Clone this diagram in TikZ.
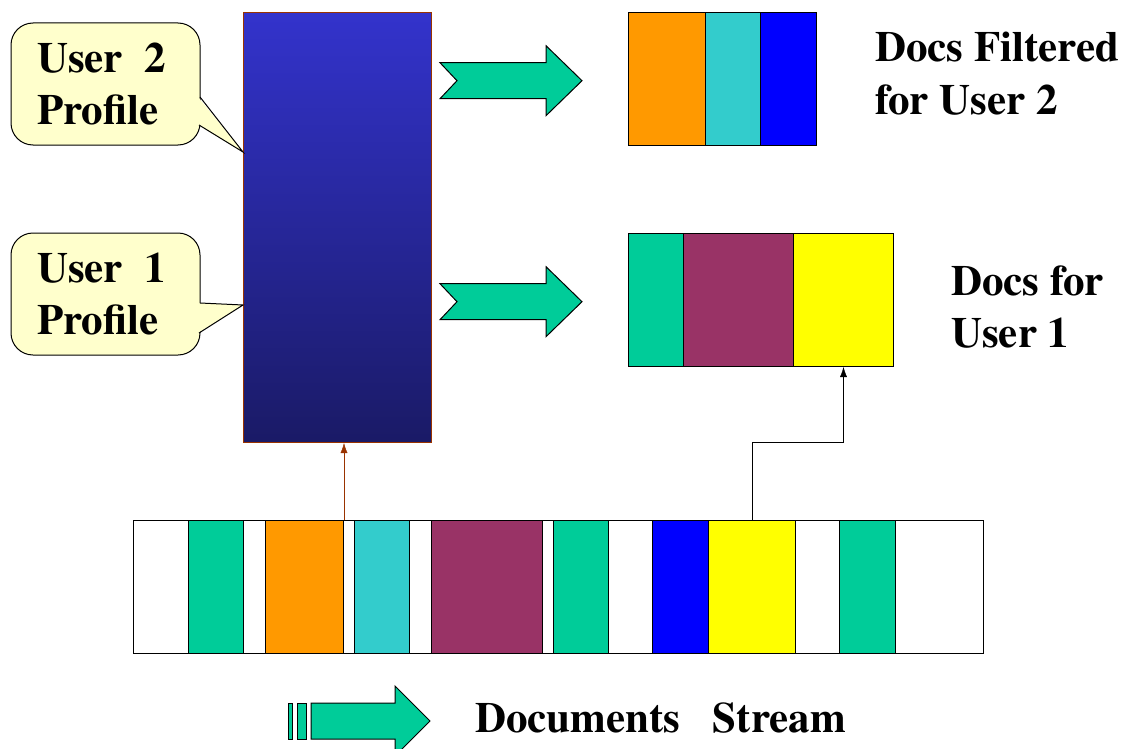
\documentclass[tikz,border=0pt]{standalone}
\usepackage{fontspec}
\setmainfont{texgyretermes}[Extension=.otf, UprightFont=*-regular, BoldFont=*-bold]
\usetikzlibrary{arrows.meta}
\definecolor{docgreen}{HTML}{00CC99}
\definecolor{docorange}{HTML}{FF9900}
\definecolor{doccyan}{HTML}{33CCCC}
\definecolor{docblue}{HTML}{0000FF}
\definecolor{docpurple}{HTML}{993366}
\definecolor{docyellow}{HTML}{FFFF00}
\definecolor{calloutfill}{HTML}{FFFFCC}
\definecolor{profiletop}{HTML}{3333CC}
\definecolor{profilebottom}{HTML}{1A1A66}
\definecolor{profileedge}{HTML}{993300}
\tikzset{
  doc/.style={draw, line width=1pt, inner sep=0, minimum height=133, anchor=north west},
  fatarrow/.style={draw, line width=1pt, fill=docgreen},
  callout/.style={draw, line width=1pt, fill=calloutfill, rounded corners=22,
    minimum width=189, minimum height=122, inner xsep=0, text width=137, align=left,
    font=\rmfamily\bfseries\fontsize{43}{52}\selectfont},
  lbl/.style={font=\rmfamily\bfseries\fontsize{43}{52}\selectfont, align=left, inner sep=0},
}
\begin{document}
\begin{tikzpicture}[x=1pt, y=-1pt]
    \clip (0,0) rectangle (1129,749);
    \fill[white] (0,0) rectangle (1129,749);
    %Profiles
    \node[draw=profileedge, line width=1pt, top color=profiletop, bottom color=profilebottom,
      minimum width=188, minimum height=430, inner sep=0, anchor=north west] (filter) at (243,12) {};
    %Callouts
    \node[callout] (u2) at (105.5,84) {User\hspace{0.5em}2\\Profile};
    \fill[calloutfill] (198,97) -- (243,152) -- (198,125) -- cycle;
    \draw[line width=1pt] (200,97) -- (243,152) -- (199,125);
    \node[callout] (u1) at (105.5,294) {User\hspace{0.5em}1\\Profile};
    \fill[calloutfill] (198,303) -- (243,305) -- (198,333) -- cycle;
    \draw[line width=1pt] (200,303) -- (243,305) -- (199,333);
    %Docs
    \foreach \l/\r/\t/\c/\n in {133/188/520/white/s1, 188/243/520/docgreen/s2,
      243/265/520/white/s3, 265/343/520/docorange/s4, 343/354/520/white/s5,
      354/409/520/doccyan/s6, 409/431/520/white/s7, 431/542/520/docpurple/s8,
      542/553/520/white/s9, 553/608/520/docgreen/s10, 608/652/520/white/s11,
      652/708/520/docblue/s12, 708/795/520/docyellow/s13, 795/839/520/white/s14,
      839/895/520/docgreen/s15, 895/983/520/white/s16,
      628/705/12/docorange/f1, 705/760/12/doccyan/f2, 760/816/12/docblue/f3,
      628/683/233/docgreen/g1, 683/793/233/docpurple/g2, 793/893/233/docyellow/g3}{
      \pgfmathsetmacro{\w}{\r-\l}
      \node[doc, fill=\c, minimum width=\w] (\n) at (\l,\t) {};
    }
    %Filter arrows
    \foreach \y in {80.7, 301.7}{
      \draw[fatarrow] (440,\y-18) -- (546,\y-18) -- (546,\y-35) -- (582,\y)
        -- (546,\y+35) -- (546,\y+18) -- (440,\y+18) -- (457,\y) -- cycle;
    }
    %Connectors
    \draw[profileedge, -{Latex[length=10pt,width=7pt]}] (s4.north east) -- (filter.south -| s4.north east);
    \draw[-{Latex[length=10pt,width=7pt]}] (s13.north) -- ++(0,-78) -| (g3.south);
    %Labels
    \node[lbl, anchor=base west] (t2a) at (875,62) {Docs Filtered};
    \node[lbl, anchor=base west] (t2b) at (875,115) {for User 2};
    \node[lbl, anchor=base west] (t1a) at (951,295) {Docs for};
    \node[lbl, anchor=base west] (t1b) at (951,347) {User 1};
    %Stream
    \fill[docgreen] (288,703) rectangle (292,739);
    \draw[line width=1pt] (288,703) rectangle (292,739);
    \draw[fatarrow] (297,703) rectangle (306,739);
    \draw[fatarrow] (311,703) -- (395,703) -- (395,686) -- (430,721)
      -- (395,756) -- (395,739) -- (311,739) -- cycle;
    \node[lbl, anchor=base west] (stream) at (475,732) {Documents\hspace{0.75em}Stream};
\end{tikzpicture}
\end{document}
